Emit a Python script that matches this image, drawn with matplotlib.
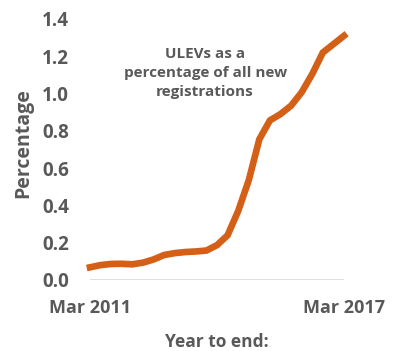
import matplotlib
matplotlib.use("Agg")
import matplotlib.pyplot as plt

# quarterly, year to end Mar 2011 .. Mar 2017
quarters = [f"{m} {y}" for y in range(2011, 2018) for m in ("Mar", "Jun", "Sep", "Dec")][:25]
ulev_pct = [0.068, 0.080, 0.086, 0.087, 0.084, 0.093, 0.110, 0.134, 0.144, 0.150,
            0.153, 0.158, 0.187, 0.240, 0.370, 0.535, 0.755, 0.856, 0.890, 0.935,
            1.007, 1.105, 1.220, 1.265, 1.310]
yticks = [0.0, 0.2, 0.4, 0.6, 0.8, 1.0, 1.2, 1.4]

GREY = "#595959"
plt.rcParams["font.family"] = ["Open Sans", "DejaVu Sans"]
plt.rcParams["font.weight"] = "bold"

fig = plt.figure(figsize=(4.04, 3.51), dpi=100)
ax = fig.add_axes([0.2228, 0.2023, 0.6287, 0.7436])

x = list(range(len(quarters)))
ax.plot(x, ulev_pct, color="#D45F17", lw=4.8, solid_joinstyle="miter", clip_on=False, zorder=3)
ax.axhline(0, color="#D9D9D9", lw=1.2, zorder=1)

ax.set_xlim(0, len(quarters) - 1)
ax.set_ylim(0, 1.4)
ax.set_yticks(yticks)
ax.set_yticklabels([f"{v:.1f}" for v in yticks], fontsize=13.5, color=GREY, fontweight="bold")
ax.set_xticks([0, len(quarters) - 1])
ax.set_xticklabels([quarters[0], quarters[-1]], fontsize=13, color=GREY, fontweight="bold")
ax.tick_params(length=0)
ax.tick_params(axis="y", pad=15)
ax.tick_params(axis="x", pad=14)
for s in ax.spines.values():
    s.set_visible(False)

ax.set_ylabel("Percentage", fontsize=14, color=GREY, fontweight="bold")
ax.yaxis.set_label_coords(-0.222, 0.525)
ax.set_xlabel("Year to end:", fontsize=12.5, color=GREY, fontweight="bold", labelpad=11)

ax.text(0.453, 0.793, "ULEVs as a\npercentage of all new\nregistrations", transform=ax.transAxes,
        ha="center", va="center", fontsize=11, color=GREY, fontweight="bold", linespacing=1.45)

fig.savefig("out.png", dpi=100)
